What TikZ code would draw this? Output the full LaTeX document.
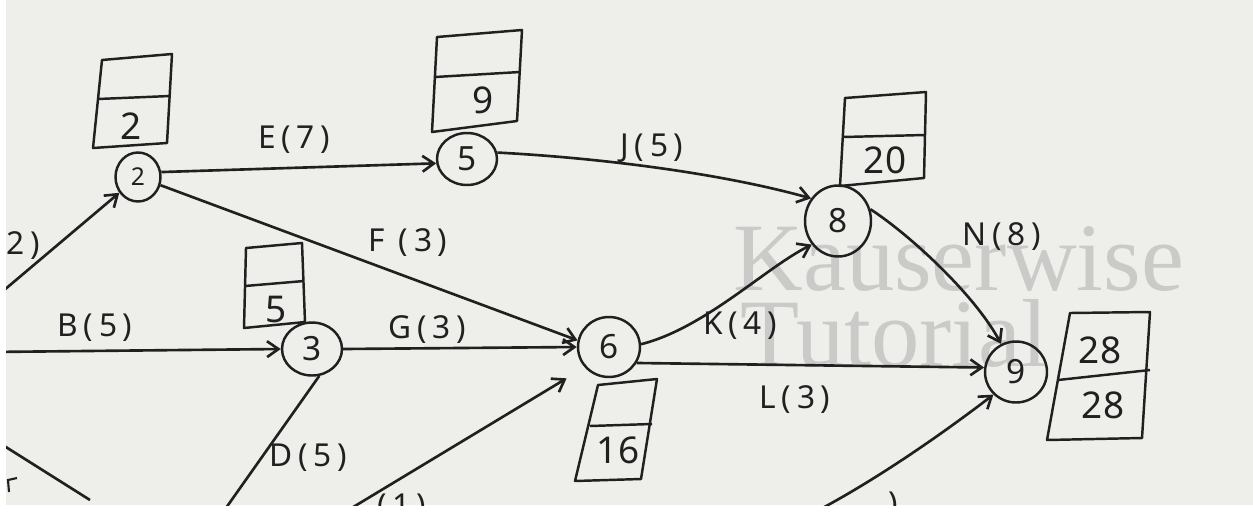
\documentclass[tikz,border=0pt]{standalone}
\usepackage{fontspec}
\setmainfont{Noto Sans}
\newfontfamily\markfont{Liberation Serif}
\newfontfamily\inkfont[LetterSpace=18]{Noto Sans}
\usetikzlibrary{shapes.geometric,arrows.meta}

\definecolor{paper}{RGB}{238,238,235}
\definecolor{ink}{RGB}{32,32,32}
\definecolor{wmark}{RGB}{202,202,200}

\tikzset{
  evt/.style={ellipse, draw=ink, line width=1.4pt, inner sep=0pt,
              text=ink, font=\fontsize{19}{19}\selectfont},
  actlbl/.style={inner sep=0pt, text=ink, font=\inkfont\fontsize{18}{18}\selectfont},
  boxnum/.style={inner sep=0pt, text=ink, font=\fontsize{21}{21}\selectfont},
  actline/.style={draw=ink, line width=1.5pt, -{Straight Barb[length=6.5pt,width=9pt]}},
  bareline/.style={draw=ink, line width=1.5pt},
  cpmbox/.style={draw=ink, line width=1.4pt, line join=round},
  wtext/.style={inner sep=0pt, text=wmark, font=\markfont\fontsize{55}{55}\selectfont}
}

\begin{document}
\begin{tikzpicture}[x=0.02cm,y=-0.02cm]
\useasboundingbox (0,0) rectangle (1253,511);
\fill[white] (0,0) rectangle (1253,511);
\fill[paper] (6,0) rectangle (1253,505);

\begin{scope}
\clip (6,0) rectangle (1253,505);

% watermark
\node[wtext, anchor=base west] (wm1) at (733,290) {Kauserwise};
\node[wtext, anchor=base west] (wm2) at (740,366) {Tutorial};

% events
\node[evt, minimum width=0.9cm, minimum height=0.98cm, font=\fontsize{14}{14}\selectfont] (n2) at (138,177) {2};
\node[evt, minimum width=1.2cm, minimum height=1.04cm] (n5) at (467,159) {5};
\node[evt, minimum width=1.32cm, minimum height=1.42cm] (n8) at (838,221) {8};
\node[evt, minimum width=1.2cm, minimum height=1.06cm] (n3) at (312,349) {3};
\node[evt, minimum width=1.24cm, minimum height=1.2cm] (n6) at (609,347) {6};
\node[evt, minimum width=1.24cm, minimum height=1.22cm] (n9) at (1016,372) {9};

% loose ends of activities that start off the sheet
\coordinate (a2) at (-10,302);
\coordinate (b3) at (-10,352);
\coordinate (d3) at (221,515);
\coordinate (cx) at (-10,437);
\coordinate (cy) at (90,500);
\coordinate (h6) at (345,512);
\coordinate (m9) at (815,512);

% activities
\draw[actline] (a2) -- (n2);
\draw[actline] (n2.12) -- (n5.188);
\draw[actline] (n2.-20) -- (n6.168);
\draw[actline] (n5.12) .. controls (600,158) and (720,173) .. (n8.140);
\draw[actline] (b3) -- (n3.west);
\draw[actline] (n3.east) -- (n6.west);
\draw[bareline] (d3) -- (n3.-75);
\draw[bareline] (cx) -- (cy);
\draw[actline, shorten >=12pt] (h6) -- (n6.-140);
\draw[actline] (n6.5) .. controls (705,328) and (765,268) .. (n8.-138);
\draw[actline] (n6.-30) -- (n9.172);
\draw[actline] (n8.20) .. controls (910,235) and (975,295) .. (n9.118);
\draw[actline] (m9) .. controls (880,478) and (950,428) .. (n9.-135);
\draw[bareline, line width=1.2pt] (17,478) -- (8,480) -- (9,492);

% activity labels
\node[actlbl, anchor=east] (la) at (40,246) {A(2)};
\node[actlbl] (le) at (294,140) {E(7)};
\node[actlbl] (lf) at (408,243) {F (3)};
\node[actlbl] (lj) at (652,148) {J(5)};
\node[actlbl] (lb) at (95,328) {B(5)};
\node[actlbl] (lg) at (427,330) {G(3)};
\node[actlbl] (ld) at (308,458) {D(5)};
\node[actlbl] (lk) at (740,326) {K(4)};
\node[actlbl] (ll) at (795,400) {L(3)};
\node[actlbl] (ln) at (1002,237) {N(8)};
\node[actlbl, anchor=north] (lh) at (402,494) {(1)};
\node[actlbl, anchor=north] (lm) at (893,492) {)};

% time boxes: upper cell earliest time, lower cell latest time
\draw[cpmbox] (102,60) -- (172,54) -- (167,143) -- (93,148) -- cycle (98,99) -- (170,96);
\node[boxnum] (t2) at (131,126) {2};
\draw[cpmbox] (437,37) -- (522,30) -- (517,121) -- (432,132) -- cycle (435,77) -- (520,72);
\node[boxnum] (t5) at (483,100) {9};
\draw[cpmbox] (845,98) -- (926,92) -- (924,178) -- (840,186) -- cycle (843,137) -- (925,135);
\node[boxnum] (t8) at (885,160) {20};
\draw[cpmbox] (246,248) -- (302,243) -- (305,322) -- (244,328) -- cycle (245,286) -- (304,281);
\node[boxnum] (t3) at (276,310) {5};
\draw[cpmbox] (598,385) -- (657,379) -- (641,479) -- (575,481) -- cycle (590,426) -- (652,424);
\node[boxnum] (t6) at (618,450) {16};
\draw[cpmbox] (1070,313) -- (1150,312) -- (1142,438) -- (1047,440) -- cycle (1058,380) -- (1150,370);
\node[boxnum] (t9a) at (1100,350) {28};
\node[boxnum] (t9b) at (1103,405) {28};
\end{scope}
\end{tikzpicture}
\end{document}
